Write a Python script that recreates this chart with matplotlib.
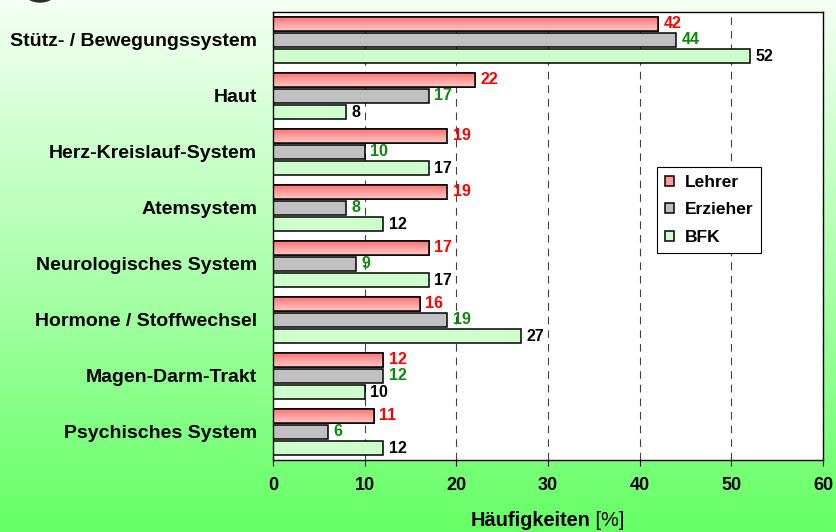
import numpy as np
import matplotlib
matplotlib.use("Agg")
import matplotlib.pyplot as plt
from matplotlib.patches import Ellipse
from matplotlib.colors import LinearSegmentedColormap

plt.rcParams['font.family'] = ['Liberation Sans', 'DejaVu Sans']
plt.rcParams['lines.scale_dashes'] = False

categories = ["Stütz- / Bewegungssystem", "Haut", "Herz-Kreislauf-System", "Atemsystem",
              "Neurologisches System", "Hormone / Stoffwechsel", "Magen-Darm-Trakt",
              "Psychisches System"]
series_names = ["Lehrer", "Erzieher", "BFK"]
lehrer = [42, 22, 19, 19, 17, 16, 12, 11]
erzieher = [44, 17, 10, 8, 9, 19, 12, 6]
bfk = [52, 8, 17, 12, 17, 27, 10, 12]
xticks = [0, 10, 20, 30, 40, 50, 60]

W, H = 836, 532
fig = plt.figure(figsize=(W / 100, H / 100), dpi=100)

# background gradient
bg = fig.add_axes([0, 0, 1, 1], zorder=-10)
grad = np.linspace(0, 1, 256).reshape(-1, 1)
bg_cmap = LinearSegmentedColormap.from_list("bg", ["#f4fff4", "#66ff66"])
bg.imshow(grad, aspect='auto', cmap=bg_cmap, extent=[0, W, H, 0])
bg.add_patch(Ellipse((40, -10), 34, 24, color="#2a2a2a"))
bg.set_xlim(0, W)
bg.set_ylim(H, 0)
bg.axis('off')

ax = fig.add_axes([273 / W, 1 - 460 / H, 550 / W, 448 / H])
ax.set_facecolor('white')
ax.set_axisbelow(True)

y = np.arange(len(categories))
off = 0.286
h = 0.25
colors = ["#ff9a9a", "#c0c0c0", "#ccffcc"]
lab_colors = ["#ff0000", "#0a8a0a", "#000000"]
data = [lehrer, erzieher, bfk]

red_cmap = LinearSegmentedColormap.from_list("red", ["#ff7474", "#ffc8c8"])
for k, (vals, c) in enumerate(zip(data, colors)):
    pos = y + (k - 1) * off
    bars = ax.barh(pos, vals, height=h, color=c, edgecolor='black', linewidth=1.1,
                   label=series_names[k], zorder=2)
    if k == 0:
        for b in bars:
            x0, y0 = b.get_x(), b.get_y()
            im = ax.imshow(grad, cmap=red_cmap, aspect='auto',
                           extent=[x0, x0 + b.get_width(), y0 + b.get_height(), y0],
                           zorder=2.1)
            im.set_clip_path(b)
        ax.barh(pos, vals, height=h, facecolor='none', edgecolor='black',
                linewidth=1.1, zorder=2.2)
    for p, v in zip(pos, vals):
        ax.annotate(f"{v}", xy=(v, p), xytext=(4, 0), textcoords='offset points',
                    ha='left', va='center', fontsize=11.5, fontweight='bold',
                    color=lab_colors[k], zorder=3)

ax.set_xlim(0, 60)
ax.set_ylim(len(categories) - 0.5, -0.5)
ax.set_xticks(xticks)
ax.set_xticklabels([str(t) for t in xticks], fontsize=13, fontweight='bold')
ax.set_yticks(y)
ax.set_yticklabels(categories, fontsize=14, fontweight='bold')
ax.tick_params(axis='y', length=0, pad=11.5)
ax.tick_params(axis='x', direction='out', length=4.3, width=0.8, pad=8)
ax.grid(axis='x', color='#404040', linewidth=0.8, linestyle=(0, (5.5, 4.3)), zorder=0)
for s in ax.spines.values():
    s.set_linewidth(1.0)
    s.set_color('black')

# x label: bold + normal part
fig.text(590 / W, 1 - 526 / H, "Häufigkeiten", ha='right', va='baseline',
         fontsize=14.4, fontweight='bold')
fig.text(590 / W, 1 - 526 / H, " [%]", ha='left', va='baseline', fontsize=14.4)

leg = ax.legend(loc='upper left', bbox_to_anchor=(657 / W, 1 - 167 / H),
                bbox_transform=fig.transFigure, borderaxespad=0, fancybox=False,
                framealpha=1, edgecolor='black', prop={'weight': 'bold', 'size': 12.5},
                handlelength=0.52, handleheight=0.52, handletextpad=0.62,
                borderpad=0.45, labelspacing=0.72)
leg.get_frame().set_linewidth(0.8)

fig.savefig("out.png", dpi=100)
